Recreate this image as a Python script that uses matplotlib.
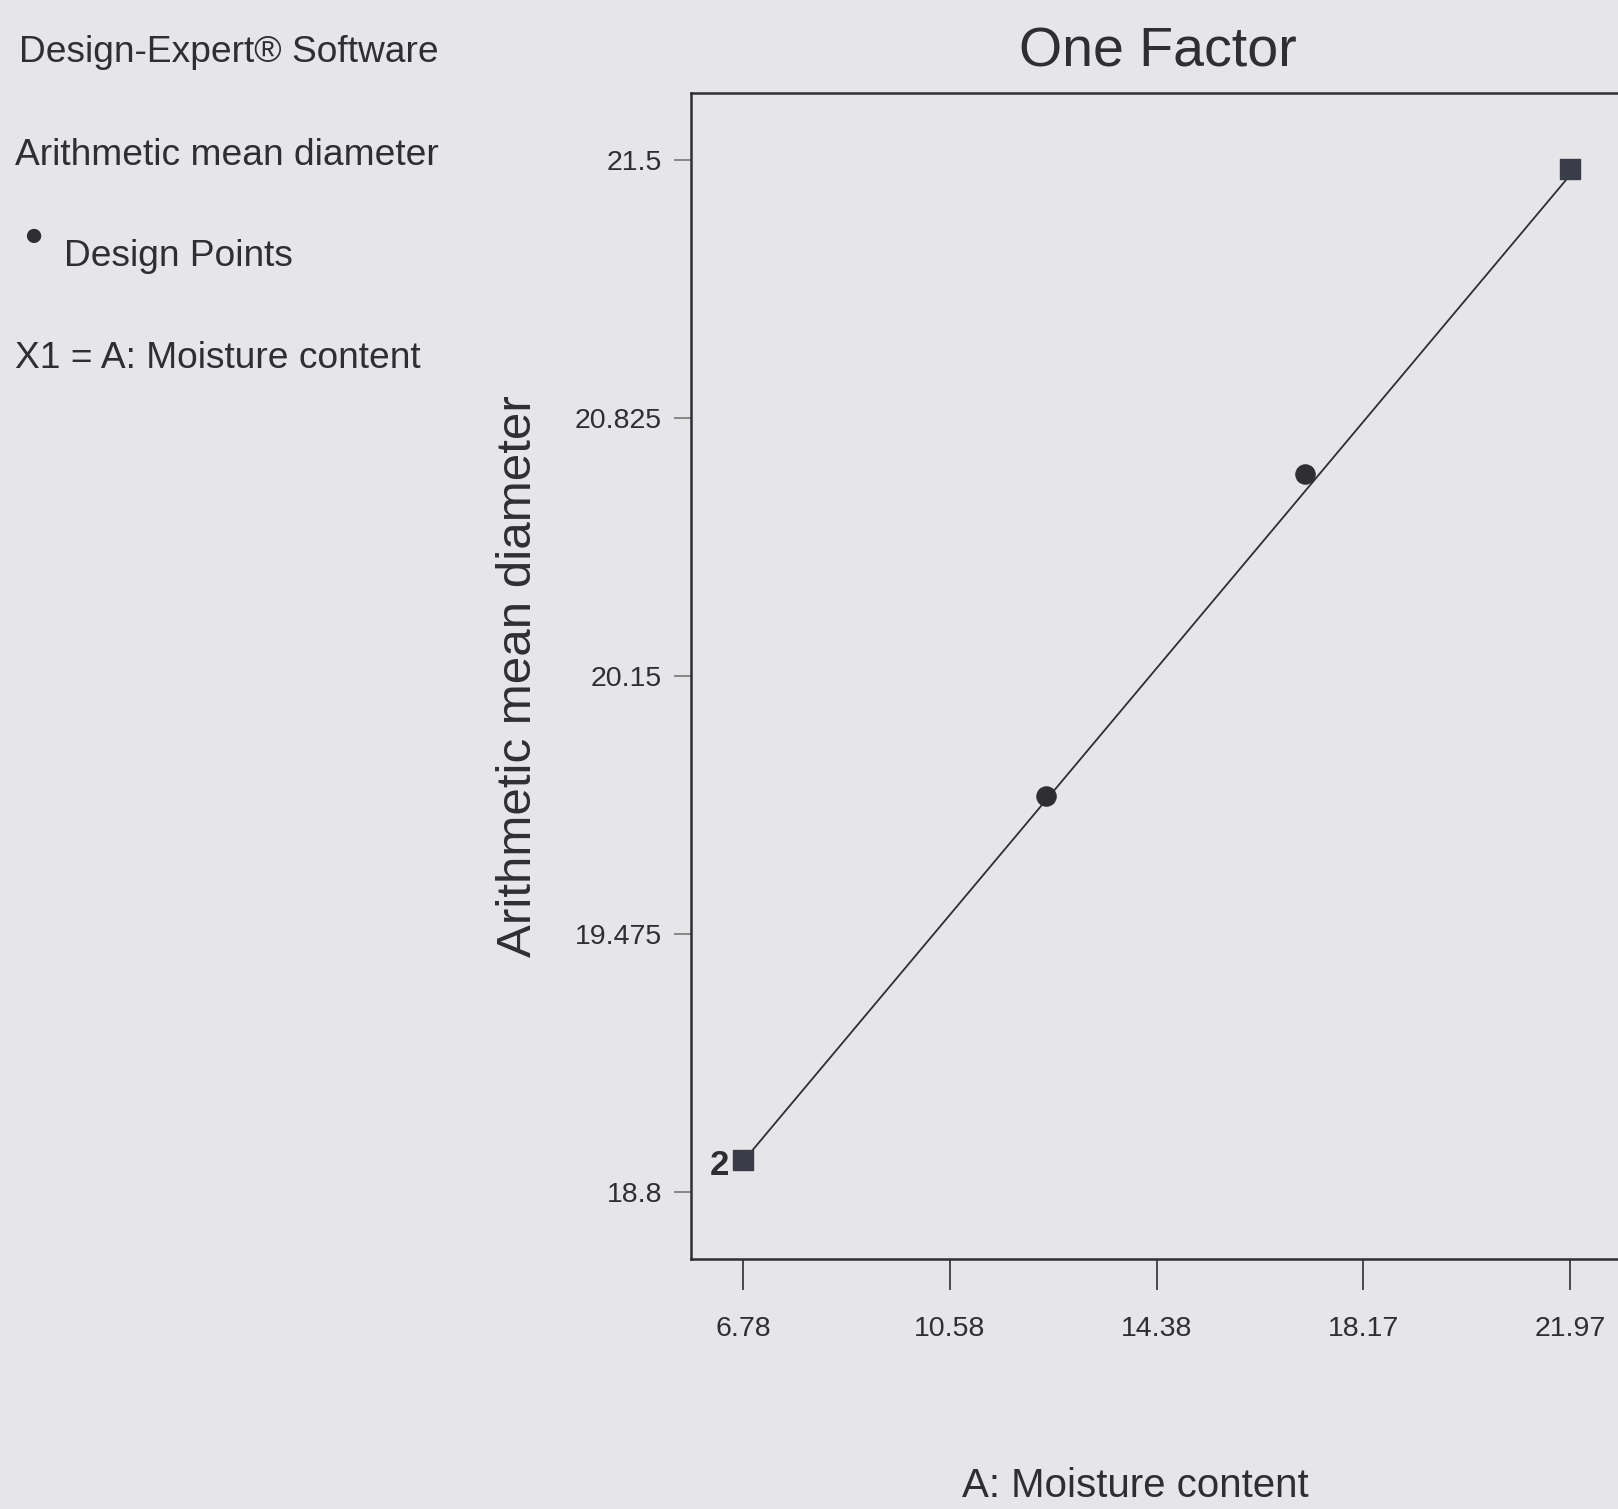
import matplotlib
matplotlib.use("Agg")
from matplotlib import pyplot as plt

# design points
run_x = [12.34, 17.10]
run_y = [19.836, 20.678]
# replicated / end points (squares)
rep_x = [6.78, 21.97]
rep_y = [18.885, 21.475]
rep_count = ["2", ""]
# model line
fit_x = [6.78, 21.97]
fit_y = [18.88, 21.46]

x_ticks = [6.78, 10.58, 14.38, 18.17, 21.97]
x_labels = ["6.78", "10.58", "14.38", "18.17", "21.97"]
y_ticks = [18.8, 19.475, 20.15, 20.825, 21.5]
y_labels = ["18.8", "19.475", "20.15", "20.825", "21.5"]

bg = "#e6e6e8"
ink = "#2e2e33"
font = ["Liberation Sans", "DejaVu Sans"]

fig = plt.figure(figsize=(16.18, 15.09), dpi=100, facecolor=bg)
ax = fig.add_axes([0.4271, 0.1657, 0.5754, 0.7727])
ax.set_facecolor(bg)

ax.plot(fit_x, fit_y, color=ink, lw=1.3, zorder=2)
ax.scatter(run_x, run_y, s=190, color=ink, marker="o", zorder=3)
ax.scatter(rep_x, rep_y, s=210, color="#3a3d48", marker="s", zorder=3)
for x, y, t in zip(rep_x, rep_y, rep_count):
    if t:
        ax.annotate(t, (x, y), xytext=(-10, -4), textcoords="offset points",
                    ha="right", va="center", fontsize=25, fontweight="bold",
                    color=ink, family=font)

ax.set_xlim(5.825, 22.925)
ax.set_ylim(18.625, 21.675)
ax.set_xticks(x_ticks)
ax.set_xticklabels(x_labels, family=font, fontsize=20.5, color=ink)
ax.set_yticks(y_ticks)
ax.set_yticklabels(y_labels, family=font, fontsize=20.5, color=ink)
ax.tick_params(axis="x", length=22, width=1.2, color=ink, pad=19)
ax.tick_params(axis="y", length=12, width=1.2, color="#777777", pad=9)

for side in ["left", "top", "bottom"]:
    ax.spines[side].set_linewidth(1.8)
    ax.spines[side].set_color(ink)
ax.spines["right"].set_visible(False)

ax.set_ylabel("Arithmetic mean diameter", family=font, fontsize=35.5,
              color=ink, va="center")
ax.yaxis.set_label_coords(-0.185, 0.5)
ax.set_xlabel("A: Moisture content", family=font, fontsize=29,
              color=ink, va="center")
ax.xaxis.set_label_coords(0.477, -0.1947)
fig.text(0.7157, 0.9655, "One Factor", family=font, fontsize=40,
         color=ink, ha="center", va="center")

# side notes
fig.text(0.012, 0.9589, "Design-Expert\u00ae Software", family=font,
         fontsize=26.7, color=ink, ha="left", va="baseline")
fig.text(0.009, 0.8907, "Arithmetic mean diameter", family=font,
         fontsize=26.7, color=ink, ha="left", va="baseline")
fig.text(0.0395, 0.8237, "Design Points", family=font,
         fontsize=26.7, color=ink, ha="left", va="baseline")
fig.text(0.009, 0.7561, "X1 = A: Moisture content", family=font,
         fontsize=26.7, color=ink, ha="left", va="baseline")
fig.text(0.0204, 0.8430, "\u25cf", family=font, fontsize=24,
         color=ink, ha="center", va="center")

fig.savefig("out.png", dpi=100, facecolor=bg)
